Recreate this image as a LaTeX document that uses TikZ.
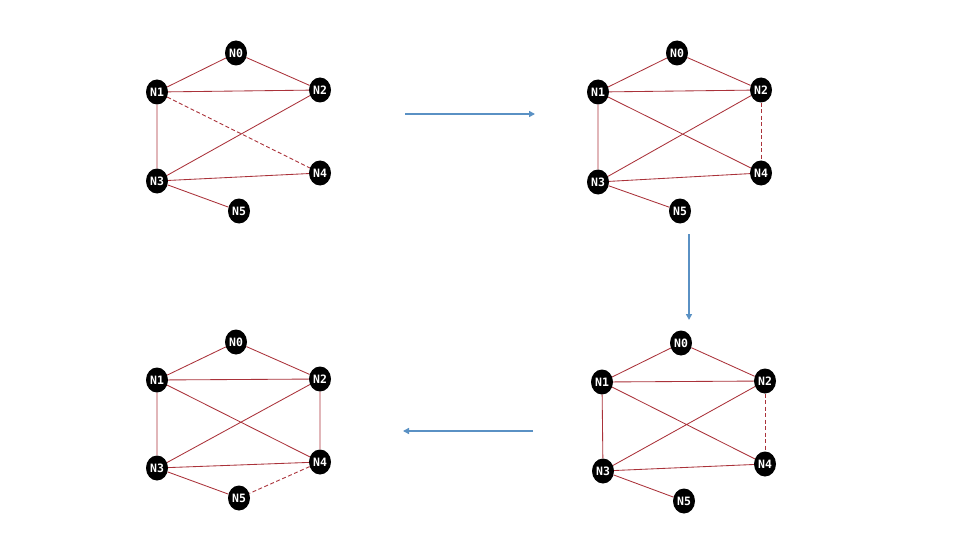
\documentclass[tikz,border=0pt]{standalone}
\usepackage{fontspec}
\newfontfamily\labfont{DejaVu Sans Mono}
\usetikzlibrary{shapes.geometric,arrows.meta}
\definecolor{edgecol}{RGB}{170,50,58}
\definecolor{arrcol}{RGB}{90,145,196}
\tikzset{
  vtx/.style={ellipse,fill=black,minimum width=22pt,minimum height=25pt,inner sep=0pt,
    text=white,font=\labfont\bfseries\fontsize{11.5}{13}\selectfont},
  edge/.style={draw=edgecol,line width=0.85pt},
  dedge/.style={edge,line width=0.9pt,dash pattern=on 4pt off 2.5pt},
  flow/.style={draw=arrcol,line width=1.6pt,-{Triangle[length=6pt,width=6pt]}}
}
\begin{document}
\begin{tikzpicture}[x=1pt,y=-1pt]
\useasboundingbox[fill=white] (0,0) rectangle (960,540);
% graph 1
\node[vtx] (a0) at (236,53) {N0};
\node[vtx] (a1) at (157,92) {N1};
\node[vtx] (a2) at (320,90) {N2};
\node[vtx] (a3) at (157,181) {N3};
\node[vtx] (a4) at (320,173) {N4};
\node[vtx] (a5) at (239,211) {N5};
\path[edge] (a0)--(a1) (a0)--(a2) (a1)--(a2) (a1)--(a3) (a2)--(a3) (a3)--(a4) (a3)--(a5);
\path[dedge] (a1)--(a4);
% graph 2
\node[vtx] (b0) at (677,53) {N0};
\node[vtx] (b1) at (598,92) {N1};
\node[vtx] (b2) at (761,90) {N2};
\node[vtx] (b3) at (598,182) {N3};
\node[vtx] (b4) at (761,173) {N4};
\node[vtx] (b5) at (680,211) {N5};
\path[edge] (b0)--(b1) (b0)--(b2) (b1)--(b2) (b1)--(b3) (b1)--(b4) (b2)--(b3) (b3)--(b4) (b3)--(b5);
\path[dedge] (b2)--(b4);
% graph 3
\node[vtx] (c0) at (236,342) {N0};
\node[vtx] (c1) at (157,380) {N1};
\node[vtx] (c2) at (320,379) {N2};
\node[vtx] (c3) at (157,468) {N3};
\node[vtx] (c4) at (320,462) {N4};
\node[vtx] (c5) at (239,498) {N5};
\path[edge] (c0)--(c1) (c0)--(c2) (c1)--(c2) (c1)--(c3) (c1)--(c4) (c2)--(c3) (c2)--(c4) (c3)--(c4) (c3)--(c5);
\path[dedge] (c4)--(c5);
% graph 4
\node[vtx] (d0) at (681,343) {N0};
\node[vtx] (d1) at (602,382) {N1};
\node[vtx] (d2) at (765,381) {N2};
\node[vtx] (d3) at (603,471) {N3};
\node[vtx] (d4) at (765,464) {N4};
\node[vtx] (d5) at (684,501) {N5};
\path[edge] (d0)--(d1) (d0)--(d2) (d1)--(d2) (d1)--(d3) (d1)--(d4) (d2)--(d3) (d3)--(d4) (d3)--(d5);
\path[dedge] (d2)--(d4);
% flow arrows
\coordinate (p1) at (405,114); \coordinate (p2) at (535,114);
\coordinate (q1) at (689,234); \coordinate (q2) at (689,320);
\coordinate (r1) at (533,431); \coordinate (r2) at (403,431);
\draw[flow] (p1) -- (p2);
\draw[flow] (q1) -- (q2);
\draw[flow] (r1) -- (r2);
\end{tikzpicture}
\end{document}
